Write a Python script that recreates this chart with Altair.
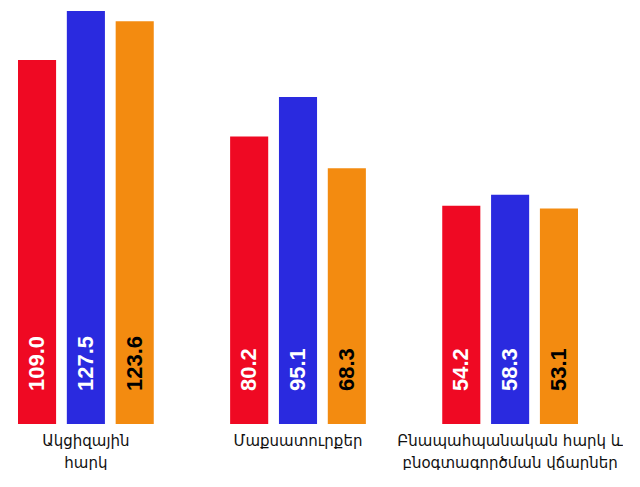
import altair as alt
import pandas as pd

categories = ["Ակցիզային\nհարկ", "Մաքսատուրքեր", "Բնապահպանական հարկ և\nբնօգտագործման վճարներ"]
series = ["s1", "s2", "s3"]
values_s1 = [109.0, 80.2, 54.2]
values_s2 = [127.5, 95.1, 58.3]
values_s3 = [123.6, 68.3, 53.1]
colors = ["#EF0923", "#2A2ADF", "#F38B10"]
label_colors = ["#FFFFFF", "#FFFFFF", "#000000"]
baseline_value = -28

rows = []
for i, c in enumerate(categories):
    for s, vals, lc in zip(series, [values_s1, values_s2, values_s3], label_colors):
        rows.append({"cat": c, "series": s, "value": vals[i], "label": f"{vals[i]:.1f}", "lc": lc, "base": baseline_value})
df = pd.DataFrame(rows)

yscale = alt.Scale(domain=[-28, 128.6], nice=False)
x = alt.X("cat:N", sort=categories, title=None,
          scale=alt.Scale(paddingInner=0.36, paddingOuter=0),
          axis=alt.Axis(domain=False, ticks=False, labelAngle=0, labelFont="DejaVu Sans",
                        labelFontSize=15, labelColor="#111111", labelPadding=9, labelLimit=400,
                        labelBaseline="top", labelLineHeight=22,
                        labelExpr="split(datum.label, '\\n')"))
xo = alt.XOffset("series:N", sort=series, scale=alt.Scale(paddingInner=0.22))
y = alt.Y("value:Q", scale=yscale, axis=None)

base = alt.Chart(df)
bars = base.mark_bar().encode(
    x=x, xOffset=xo, y=y, y2="base:Q",
    color=alt.Color("series:N", scale=alt.Scale(domain=series, range=colors), legend=None),
)
labels = base.mark_text(angle=270, align="left", baseline="middle", fontSize=22,
                        fontWeight="bold", font="Liberation Sans", dx=33).encode(
    x=x, xOffset=xo, y=alt.Y("base:Q", scale=yscale, axis=None),
    text="label:N",
    color=alt.Color("lc:N", scale=None),
)

chart = alt.layer(bars, labels).properties(
    width=560, height=416, background="white",
    padding={"left": 10, "top": 0, "right": 0, "bottom": 0},
).configure_view(strokeWidth=0, stroke="transparent")

chart.save("out.html", embed_options={"renderer": "svg", "actions": False})
